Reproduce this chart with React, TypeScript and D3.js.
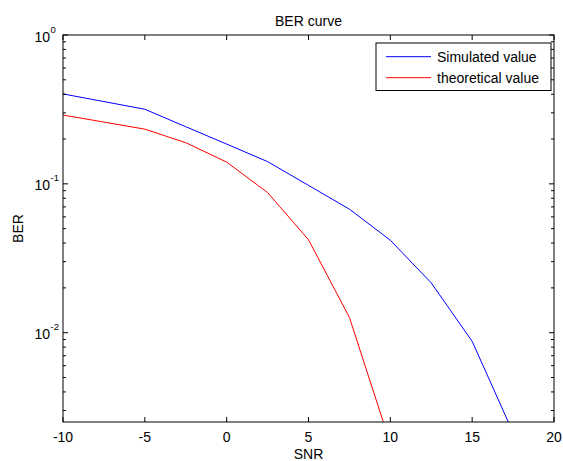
import React from "react";
import * as d3 from "d3";

const snr = [-10, -7.5, -5, -2.5, 0, 2.5, 5, 7.5, 10, 12.5, 15, 17.5];
const simulated = [0.402, 0.357, 0.317, 0.242, 0.185, 0.141, 0.0977, 0.0676, 0.0418, 0.0216, 0.00875, 0.00213];
const theoretical = [0.29, 0.26, 0.233, 0.189, 0.14, 0.0874, 0.0421, 0.01267, 0.0018];
const xTicks = [-10, -5, 0, 5, 10, 15, 20];
const yDecades = [0, -1, -2];
const seriesNames = ["Simulated value", "theoretical value"];
const seriesColors = ["#0000ff", "#ff0000"];

const W = 563, H = 461;
const L = 63, R = 554, T = 35, B = 422;
const FONT = "'Liberation Sans', Arial, Helvetica, sans-serif";

export default function App() {
  const x = d3.scaleLinear().domain([-10, 20]).range([L, R]);
  const y = d3.scaleLog().domain([Math.pow(10, -2.6), 1]).range([B, T]);
  const line = d3
    .line<[number, number]>()
    .x((d) => x(d[0]))
    .y((d) => y(d[1]));
  const simPts = snr.map((s, i) => [s, simulated[i]] as [number, number]).filter((d) => d[1] !== undefined);
  const thPts = theoretical.map((v, i) => [snr[i], v] as [number, number]);

  const minor: number[] = [];
  for (let e = -3; e < 0; e++) {
    for (let m = 2; m <= 9; m++) {
      const v = m * Math.pow(10, e);
      if (v >= Math.pow(10, -2.6) && v <= 1) minor.push(v);
    }
  }

  return (
    <svg
      width={W}
      height={H}
      style={{ position: "absolute", left: 0, top: 0, background: "#fff" }}
      fontFamily={FONT}
    >
      <rect x={0} y={0} width={W} height={H} fill="#fff" />
      <defs>
        <clipPath id="plot">
          <rect x={L} y={T} width={R - L} height={B - T} />
        </clipPath>
      </defs>
      <g clipPath="url(#plot)" fill="none" strokeWidth={1}>
        <path d={line(simPts) || ""} stroke={seriesColors[0]} />
        <path d={line(thPts) || ""} stroke={seriesColors[1]} />
      </g>
      {/* axes box */}
      <rect x={L} y={T} width={R - L} height={B - T} fill="none" stroke="#000" strokeWidth={1} />
      {/* x ticks */}
      {xTicks.map((t) => (
        <g key={"x" + t}>
          <line x1={x(t)} x2={x(t)} y1={B} y2={B - 5} stroke="#000" />
          <line x1={x(t)} x2={x(t)} y1={T} y2={T + 5} stroke="#000" />
          <text x={x(t)} y={442} fontSize={14} textAnchor="middle" fill="#000">
            {t}
          </text>
        </g>
      ))}
      {/* y major ticks */}
      {yDecades.map((e) => {
        const yy = y(Math.pow(10, e));
        return (
          <g key={"y" + e}>
            <line x1={L} x2={L + 5} y1={yy} y2={yy} stroke="#000" />
            <line x1={R} x2={R - 5} y1={yy} y2={yy} stroke="#000" />
            <text x={50} y={yy + 6.5} fontSize={14} textAnchor="end" fill="#000">
              10
            </text>
            <text x={50.5} y={yy - 2.5} fontSize={9.5} textAnchor="start" fill="#000">
              {e}
            </text>
          </g>
        );
      })}
      {minor.map((v, i) => {
        const yy = y(v);
        return (
          <g key={"m" + i}>
            <line x1={L} x2={L + 3} y1={yy} y2={yy} stroke="#000" />
            <line x1={R} x2={R - 3} y1={yy} y2={yy} stroke="#000" />
          </g>
        );
      })}
      {/* labels */}
      <text x={(L + R) / 2} y={26} fontSize={14} textAnchor="middle" fill="#000">
        BER curve
      </text>
      <text x={(L + R) / 2} y={459} fontSize={14} textAnchor="middle" fill="#000">
        SNR
      </text>
      <text
        x={0}
        y={0}
        transform={`translate(23,${(T + B) / 2}) rotate(-90)`}
        fontSize={14}
        textAnchor="middle"
        fill="#000"
      >
        BER
      </text>
      {/* legend */}
      <rect x={376} y={43} width={175} height={47.5} fill="#fff" stroke="#000" strokeWidth={1} />
      {seriesNames.map((n, i) => {
        const yy = 56.7 + i * 21;
        return (
          <g key={n}>
            <line x1={386} x2={431} y1={yy} y2={yy} stroke={seriesColors[i]} strokeWidth={1} />
            <text x={437} y={yy + 5} fontSize={14} fill="#000">
              {n}
            </text>
          </g>
        );
      })}
    </svg>
  );
}
